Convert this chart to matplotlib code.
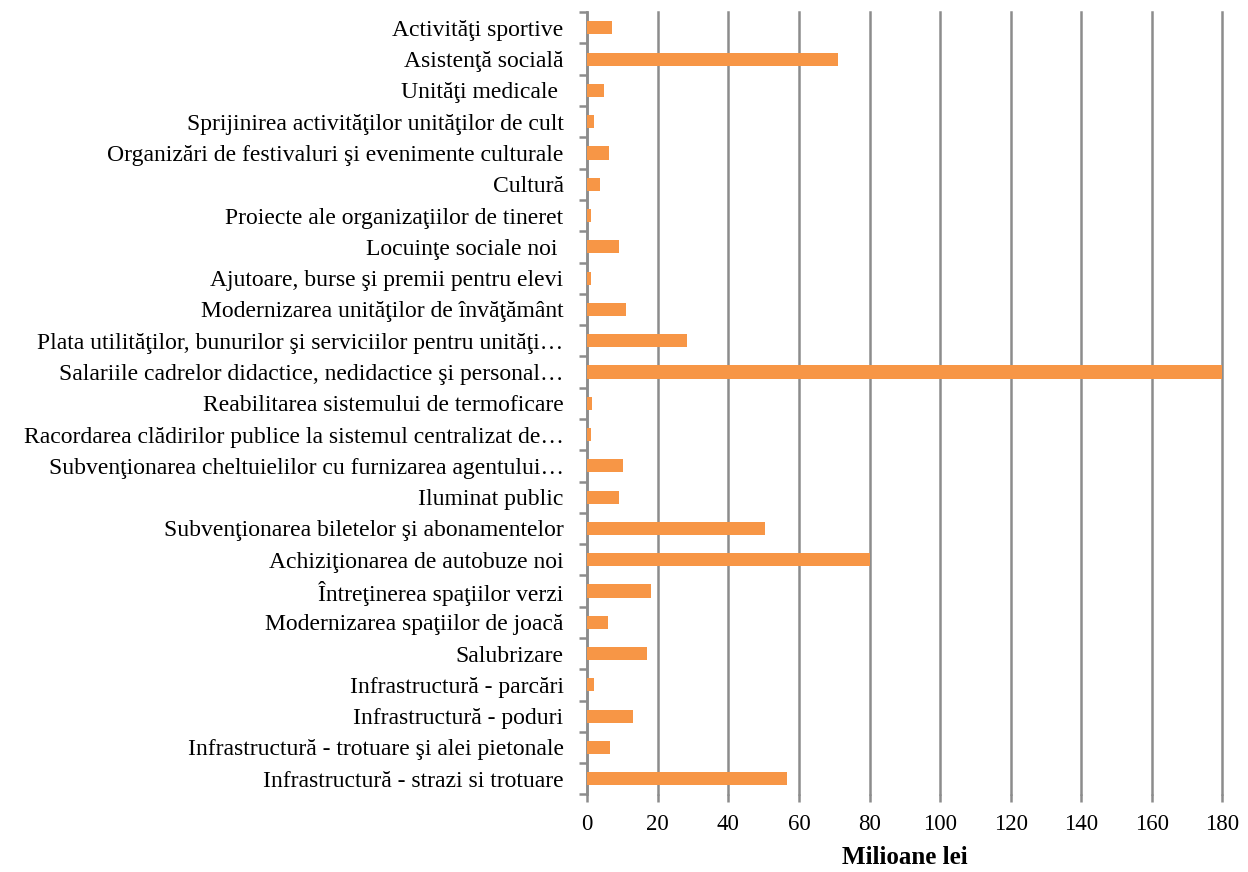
import numpy as np
import matplotlib.pyplot as plt

# categories listed bottom to top (as drawn)
categories = [
    "Infrastructură - strazi si trotuare",
    "Infrastructură - trotuare şi alei pietonale",
    "Infrastructură - poduri",
    "Infrastructură - parcări",
    "Salubrizare",
    "Modernizarea spaţiilor de joacă",
    "Întreţinerea spaţiilor verzi",
    "Achiziţionarea de autobuze noi",
    "Subvenţionarea biletelor şi abonamentelor",
    "Iluminat public",
    "Subvenţionarea cheltuielilor cu furnizarea agentului…",
    "Racordarea clădirilor publice la sistemul centralizat de…",
    "Reabilitarea sistemului de termoficare",
    "Salariile cadrelor didactice, nedidactice şi personal…",
    "Plata utilităţilor, bunurilor şi serviciilor pentru unităţi…",
    "Modernizarea unităţilor de învăţământ",
    "Ajutoare, burse şi premii pentru elevi",
    "Locuinţe sociale noi ",
    "Proiecte ale organizaţiilor de tineret",
    "Cultură",
    "Organizări de festivaluri şi evenimente culturale",
    "Sprijinirea activităţilor unităţilor de cult",
    "Unităţi medicale ",
    "Asistenţă socială",
    "Activităţi sportive",
]
values = [56.7, 6.6, 13.0, 1.9, 17.0, 6.0, 18.0, 80.0, 50.5, 9.1,
          10.1, 1.0, 1.4, 181.0, 28.4, 11.0, 1.0, 9.0, 1.1, 3.7,
          6.2, 2.0, 4.8, 71.1, 7.1]
x_ticks = list(range(0, 181, 20))

plt.rcParams['font.family'] = ['Liberation Serif', 'DejaVu Serif']

fig = plt.figure(figsize=(12.48, 8.72), dpi=100)
ax = fig.add_axes([0.4705, 0.089, 0.509, 0.897])

y = np.arange(len(categories))
ax.barh(y, values, height=0.42, color='#F79646', zorder=3)

ax.set_xlim(0, 180)
ax.set_ylim(-0.5, len(categories) - 0.5)
ax.set_xticks(x_ticks)
ax.set_xticklabels([str(t) for t in x_ticks], fontsize=16.5)
ax.xaxis.grid(True, color='#8c8c8c', linewidth=1.8, zorder=0)
for gl in ax.get_xgridlines():
    gl.set_clip_on(False)

# category labels, with separator ticks between categories
ax.set_yticks(y)
ax.set_yticklabels(categories, fontsize=17)
ax.tick_params(axis='y', length=0, pad=17)
ax.set_yticks(np.arange(-0.5, len(categories), 1), minor=True)
ax.tick_params(axis='y', which='minor', length=6, width=1.8, color='#8c8c8c')
ax.tick_params(axis='x', length=6, width=1.8, color='#8c8c8c', pad=8)

for s in ['top', 'right', 'bottom']:
    ax.spines[s].set_visible(False)
ax.spines['left'].set_color('#8c8c8c')
ax.spines['left'].set_linewidth(1.8)

ax.set_xlabel("Milioane lei", fontsize=18, fontweight='bold', labelpad=8)

fig.savefig("out.png", dpi=100)
